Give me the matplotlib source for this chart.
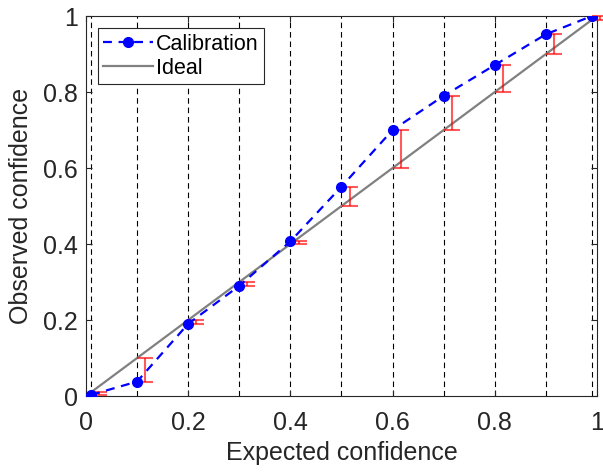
import numpy as np
import matplotlib
matplotlib.use("Agg")
import matplotlib.pyplot as plt

plt.rcParams['font.family'] = ['Liberation Sans', 'DejaVu Sans']

# --- Datos ---
bin_centers = [0.01, 0.1, 0.2, 0.3, 0.4, 0.5, 0.6, 0.7, 0.8, 0.9, 0.99]
observed = [0.003, 0.038, 0.19, 0.29, 0.407, 0.551, 0.70, 0.79, 0.871, 0.952, 1.0]
ideal_x = [0, 1]
ideal_y = [0, 1]
ticks = [0, 0.2, 0.4, 0.6, 0.8, 1]
tick_labels = ["0", "0.2", "0.4", "0.6", "0.8", "1"]

edge = (0.15, 0.15, 0.15)

fig = plt.figure(figsize=(6.03, 4.72), dpi=100)
ax = fig.add_axes([0.1426, 0.161, 0.8474, 0.805])

# --- lineas verticales por bin ---
for c in bin_centers:
    ax.axvline(c, color="black", linestyle=(0, (5, 3.5)), linewidth=0.8, zorder=1)

ax.plot(ideal_x, ideal_y, color=(0.5, 0.5, 0.5), linewidth=1.6, label="Ideal", zorder=2)

# --- barras de error entre esperado y observado ---
bc = np.array(bin_centers)
obs = np.array(observed)
lo = np.minimum(bc, obs)
hi = np.maximum(bc, obs)
mid = (lo + hi) / 2
eb = ax.errorbar(bc + 0.016, mid, yerr=(hi - lo) / 2, fmt="none", ecolor="red",
                 elinewidth=1.5, capsize=5.8, capthick=1.5, alpha=0.65, zorder=3)
for part in eb.lines[1] + eb.lines[2]:
    part.set_clip_on(False)

ax.plot(bin_centers, observed, color="blue", linestyle=(0, (4, 3)), linewidth=1.6,
        marker="o", markersize=7, label="Calibration", zorder=4)

ax.set_xlim(0, 1)
ax.set_ylim(0, 1)
ax.set_xticks(ticks)
ax.set_xticklabels(tick_labels)
ax.set_yticks(ticks)
ax.set_yticklabels(tick_labels)
ax.tick_params(direction="in", length=4, labelsize=18, colors=edge, top=True, right=True)
ax.tick_params(axis="x", pad=11)
ax.tick_params(axis="y", pad=6)
ax.tick_params(labelcolor=edge)
for s in ax.spines.values():
    s.set_color(edge)
    s.set_linewidth(0.8)

ax.set_xlabel("Expected confidence", fontsize=18, color=edge, labelpad=4)
ax.set_ylabel("Observed confidence", fontsize=18, color=edge, labelpad=7)

handles, labels = ax.get_legend_handles_labels()
leg = ax.legend(handles[::-1], labels[::-1], loc="upper left", fontsize=15.5,
                fancybox=False, framealpha=1, edgecolor=edge, borderpad=0.25,
                handlelength=2.3, handletextpad=0.15, labelspacing=0.15,
                borderaxespad=0, bbox_to_anchor=(0.0235, 0.968))
leg.get_frame().set_linewidth(0.8)

plt.savefig("out.png", dpi=100)
